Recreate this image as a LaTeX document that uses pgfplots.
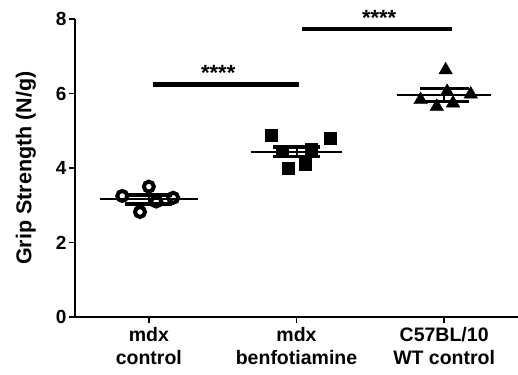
\documentclass[border=0pt]{standalone}
\usepackage{pgfplots}
\pgfplotsset{compat=1.18}
\usetikzlibrary{calc}
\usepackage{fontspec}
\setmainfont{Liberation Sans}
\begin{document}
\begin{tikzpicture}
\begin{axis}[
  name=ax,
  scale only axis,
  width=443pt, height=298pt,
  xmin=-0.5, xmax=2.5, ymin=0, ymax=8,
  axis lines=left,
  axis line style={line width=1.6pt, -},
  axis line shift=0pt,
  xtick={0,1,2},
  xticklabels={mdx\\control, mdx\\benfotiamine, C57BL/10\\WT control},
  ytick={0,2,4,6,8},
  tick style={line width=1.4pt, black},
  major tick length=6pt,
  tick align=outside,
  xticklabel style={align=center, font=\fontsize{19.5}{23}\selectfont\bfseries, yshift=-1pt},
  yticklabel style={font=\fontsize{19}{20}\selectfont\bfseries, xshift=1pt},
  /pgf/number format/assume math mode=true,
  ylabel={Grip Strength (N/g)},
  ylabel style={font=\fontsize{21.5}{23}\selectfont\bfseries, yshift=13pt},
  clip=false,
]
% individual points
\addplot[only marks, mark=o, mark size=5pt, mark options={line width=4pt, black, fill=white}]
 coordinates {(-0.18,3.25) (0,3.5) (-0.06,2.82) (0.05,3.1) (0.165,3.2)};
\addplot[only marks, mark=square*, mark size=6pt, black]
 coordinates {(0.83,4.89) (1.227,4.80) (0.945,3.99) (1.058,4.11) (0.9,4.45) (1.1,4.5)};
\addplot[only marks, mark=triangle*, mark size=7.8pt, black]
 coordinates {(2.01,6.63) (1.84,5.83) (1.95,5.65) (2.06,5.74) (2.18,5.98) (2.02,6.05)};
% means
\addplot[black, line width=2pt] coordinates {(-0.33,3.16) (0.33,3.16)};
\addplot[black, line width=2pt] coordinates {(0.69,4.44) (1.31,4.44)};
\addplot[black, line width=2pt] coordinates {(1.68,5.96) (2.32,5.96)};
% SEM
\addplot[black, line width=3.5pt] coordinates {(-0.16,3.28) (0.16,3.28)};
\addplot[black, line width=3.5pt] coordinates {(-0.16,3.04) (0.16,3.04)};
\addplot[black, line width=2pt] coordinates {(0,3.04) (0,3.28)};
\addplot[black, line width=3.5pt] coordinates {(0.84,4.57) (1.16,4.57)};
\addplot[black, line width=3.5pt] coordinates {(0.84,4.31) (1.16,4.31)};
\addplot[black, line width=2pt] coordinates {(1,4.31) (1,4.57)};
\addplot[black, line width=3.5pt] coordinates {(1.835,6.14) (2.165,6.14)};
\addplot[black, line width=3.5pt] coordinates {(1.835,5.78) (2.165,5.78)};
\addplot[black, line width=2pt] coordinates {(2,5.78) (2,6.14)};
% significance bars
\addplot[black, line width=4.5pt] coordinates {(0.03,6.24) (1.02,6.24)};
\addplot[black, line width=4.5pt] coordinates {(1.04,7.73) (2.05,7.73)};
\node[font=\fontsize{22}{22}\selectfont\bfseries] at (axis cs:0.47,6.55) {****};
\node[font=\fontsize{22}{22}\selectfont\bfseries] at (axis cs:1.56,8.02) {****};
\end{axis}
\pgfresetboundingbox
\path ($(ax.south west)+(-75pt,-57pt)$) rectangle ($(ax.north east)+(0pt,19pt)$);
\end{tikzpicture}
\end{document}
